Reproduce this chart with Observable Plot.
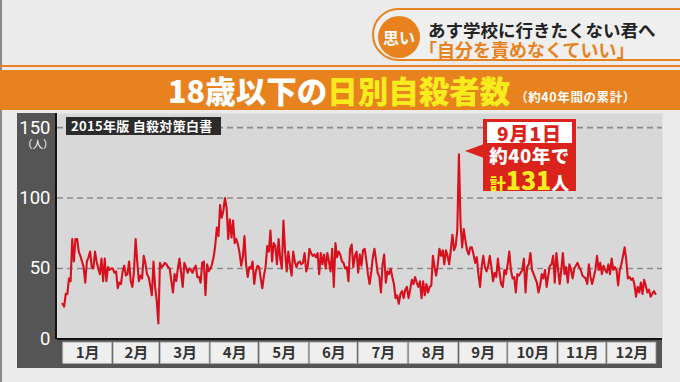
<!DOCTYPE html>
<html><head><meta charset="utf-8">
<script src="https://cdn.jsdelivr.net/npm/d3@7"></script>
<script src="https://cdn.jsdelivr.net/npm/@observablehq/plot@0.6"></script>
<style>
html,body{margin:0;padding:0;background:#ebebeb;}
#wrap{position:relative;width:680px;height:382px;overflow:hidden;background:#ebebeb;font-family:"Noto Sans CJK JP",sans-serif;}
.abs{position:absolute;}
</style></head>
<body>
<div id="wrap">
  <div class="abs" style="left:0;top:0;width:2px;height:382px;background:#8a8a8a"></div>
  <!-- header box -->
  <div class="abs" style="left:372px;top:8px;width:330px;height:53px;border:2px solid #e8821e;border-radius:30px 0 0 30px;box-sizing:border-box;background:#efefef"></div>
  <div class="abs" style="left:378px;top:16px;width:42px;height:42px;border-radius:50%;background:#e8821e;color:#fff;font-weight:700;font-size:16px;line-height:42px;text-align:center">思い</div>
  <div class="abs" style="left:428px;top:20px;font-weight:700;font-size:17.5px;line-height:19px;height:19px;color:#222;white-space:nowrap">あす学校に行きたくない君へ</div>
  <div class="abs" style="left:419px;top:40px;font-weight:700;font-size:18px;line-height:19px;height:19px;color:#e8821e;white-space:nowrap">「自分を責めなくていい」</div>
  <div class="abs" style="left:0;top:65px;width:680px;height:2px;background:#e8821e"></div>
  <!-- title band -->
  <div class="abs" style="left:0;top:70px;width:680px;height:40px;background:#e8821e"></div>
  <div class="abs" style="left:168px;top:72px;height:36px;line-height:36px;white-space:nowrap;font-weight:900;font-size:30.5px;color:#fff">18歳以下の<span style="color:#f8ec1f">日別自殺者数</span><span style="font-size:12.5px;font-weight:700;margin-left:5px;letter-spacing:0.6px;vertical-align:1px">（約40年間の累計）</span></div>
  <!-- dark axis bands -->
  <div class="abs" style="left:17px;top:113px;width:40px;height:255px;background:#555"></div>
  <div class="abs" style="left:57px;top:338px;width:605px;height:30px;background:#555"></div>
  <div class="abs" style="left:55px;top:113px;width:2px;height:226px;background:#111;z-index:3"></div>
  <div id="chart" class="abs" style="left:0;top:0;z-index:2"></div>
  <div class="abs" style="left:22px;top:137px;color:#fff;font-size:10.5px;line-height:13px;height:13px;z-index:3;white-space:nowrap">（人）</div>
  <!-- source box -->
  <div class="abs" style="left:66px;top:117px;width:155px;height:18px;background:#2b2b2b;color:#fff;font-size:13px;font-weight:700;line-height:18px;padding-left:5px;box-sizing:border-box;white-space:nowrap;letter-spacing:0.3px;z-index:4">2015年版 自殺対策白書</div>
  <!-- callout -->
  <div class="abs" style="left:465px;top:144px;width:0;height:0;border-top:7px solid transparent;border-bottom:7px solid transparent;border-right:19px solid #d9231b;z-index:5"></div>
  <div class="abs" style="left:483px;top:119px;width:93px;height:72px;background:#d9231b;z-index:5">
    <div class="abs" style="left:4px;top:3px;width:85px;height:21px;background:#fff;color:#d9231b;font-weight:900;font-size:19px;line-height:21px;text-align:center;letter-spacing:1px">9月1日</div>
    <div class="abs" style="left:0;top:26px;width:93px;height:21px;color:#fff;font-weight:900;font-size:18.5px;line-height:21px;text-align:center;white-space:nowrap;letter-spacing:0.5px">約40年で</div>
    <div class="abs" style="left:0;top:49px;width:93px;height:22px;color:#fff;font-weight:900;font-size:18px;line-height:22px;text-align:center;white-space:nowrap"><span style="color:#f8ec1f;font-size:16px">計</span><span style="color:#f8ec1f;font-size:25px;line-height:22px">131</span>人</div>
  </div>
</div>
<script>
// daily totals (about 40 years cumulative), leap-year calendar
const jan = [25,23,32,32,43,41,71,55,71,71,62,59,55,51,40,55,58,62,51,50,62,55,50,46,57,41,57,41,51,49,50];
const feb = [50,47,48,36,40,39,48,52,45,46,55,41,37,48,71,55,41,45,43,59,54,46,44,38,31,55,37,27,11];
const mar = [54,51,52,54,53,51,50,41,33,46,41,50,57,47,37,54,51,47,50,49,47,50,52,44,44,40,54,55,31,53,48];
const apr = [50,53,58,66,79,73,95,86,91,100,93,71,85,72,84,68,71,67,61,52,58,73,53,44,51,50,55,39,48,52];
const may = [51,43,36,45,51,66,62,77,55,68,66,53,71,57,50,84,62,48,62,53,45,62,55,51,54,55,53,54,61,48,52];
const jun = [64,61,59,60,58,61,46,61,53,60,50,61,55,48,64,37,68,58,62,60,55,54,50,51,41,64,67,51,59,62];
const jul = [47,60,52,63,64,56,46,39,47,58,64,56,47,44,33,53,60,40,48,46,50,44,39,29,31,25,32,34,29,35,37];
const aug = [29,35,42,39,44,40,37,41,29,41,31,39,33,37,38,59,51,45,53,64,59,63,53,63,59,53,63,74,63,66,77];
const sep = [131,82,65,78,70,63,60,65,65,60,54,58,46,37,51,59,51,48,52,59,51,41,47,44,57,47,39,37,49,46];
const oct = [53,62,49,43,44,33,46,45,47,49,57,33,51,53,61,49,46,43,40,33,38,46,43,49,37,45,52,53,59,40,61];
const nov = [50,39,49,61,46,51,40,53,49,43,50,52,54,51,49,45,44,43,39,53,44,39,44,49,59,49,54,46,52,49];
const dec = [47,53,46,57,49,51,49,38,49,53,59,65,56,43,44,42,43,39,30,37,33,40,32,42,38,33,35,30,32,34,32];

const monthNames = ["1月","2月","3月","4月","5月","6月","7月","8月","9月","10月","11月","12月"];
const yTicks = [0,50,100,150];
const gridTicks = [50,100,150];

const series = [jan,feb,mar,apr,may,jun,jul,aug,sep,oct,nov,dec];
const data = series.flat().map((v,i)=>({day:i, value:v}));
let acc = 0;
const months = series.map((s,i)=>{const start=acc; acc+=s.length; return {name:monthNames[i], start, end:acc, mid:(start+acc)/2};});

const chart = Plot.plot({
  width:680, height:382,
  marginLeft:57, marginRight:18, marginTop:113, marginBottom:43.5,
  x:{domain:[0,365], insetLeft:5, insetRight:7, axis:null},
  y:{domain:[0,160], axis:null},
  style:{background:"transparent", overflow:"visible", fontFamily:"'Noto Sans CJK JP', sans-serif"},
  marks:[
    Plot.frame({fill:"#d8d8d8", stroke:"none"}),
    Plot.ruleY(gridTicks, {stroke:"#8a8a8a", strokeWidth:1.6, strokeDasharray:"6,4"}),
    Plot.axisY({ticks:yTicks, tickSize:0, tickPadding:7, color:"#fff", fontSize:18.5, fontFamily:"Roboto", label:null}),
    Plot.rect(months, {x1:"start", x2:"end", y1:-2.6, y2:-17.6, fill:"#efefef", stroke:"#bdbdbd", strokeWidth:0.8, insetLeft:0.8, insetRight:0.8}),
    Plot.text(months, {x:"mid", y:-10.2, text:"name", fill:"#333", fontSize:15, fontWeight:"bold"}),
    Plot.line(data, {x:"day", y:"value", stroke:"#d7101d", strokeWidth:2.1, strokeLinejoin:"round"}),
    Plot.ruleY([0], {stroke:"#111", strokeWidth:2.2})
  ]
});
document.getElementById("chart").appendChild(chart);
</script>
</body></html>
